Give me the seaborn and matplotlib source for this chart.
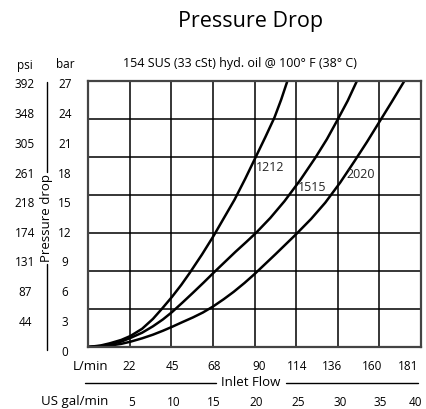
import numpy as np
import pandas as pd
import seaborn as sns
import matplotlib
matplotlib.use("Agg")
import matplotlib.pyplot as plt
from matplotlib.lines import Line2D

# Inlet flow (US gal/min) vs. pressure drop (bar) for each valve size
flow_1212 = [0, 1.5, 2.6, 4.0, 5.1, 6.5, 7.8, 8.9, 10.1, 11.2, 12.2, 13.7, 15.1,
             16.4, 17.6, 18.9, 20.1, 21.3, 22.4, 23.2, 23.95]
dp_1212 = [0, 0.15, 0.37, 0.72, 1.12, 1.85, 2.85, 3.9, 5.1, 6.3, 7.5, 9.4, 11.3,
           13.2, 14.95, 17.1, 19.2, 21.3, 23.3, 25.1, 27.0]
flow_1515 = [0, 1.5, 2.6, 4.0, 5.1, 6.5, 7.8, 9.0, 10.1, 11.4, 12.6, 13.9, 15.1,
             16.4, 17.7, 19.0, 20.2, 21.9, 23.6, 25.5, 27.3, 28.7, 30.0, 31.2, 32.3]
dp_1515 = [0, 0.1, 0.27, 0.55, 0.92, 1.45, 2.1, 2.8, 3.55, 4.55, 5.5, 6.55, 7.55,
           8.6, 9.65, 10.65, 11.6, 13.1, 14.8, 16.95, 19.2, 21.1, 23.1, 25.0, 27.0]
flow_2020 = [0, 1.5, 2.6, 4.0, 5.1, 6.5, 7.8, 9.0, 10.1, 11.4, 12.6, 13.8, 15.0,
             16.3, 17.5, 18.8, 20.0, 22.5, 25.0, 26.8, 28.5, 30.3, 32.0, 33.5,
             35.0, 36.5, 38.0]
dp_2020 = [0, 0.05, 0.14, 0.32, 0.54, 0.88, 1.25, 1.65, 2.05, 2.55, 3.0, 3.5, 4.1,
           4.85, 5.6, 6.5, 7.4, 9.4, 11.45, 13.0, 14.65, 16.7, 18.85, 20.8, 22.85,
           24.9, 27.0]

series_names = ["1212", "1515", "2020"]

# Axis labels
bar_ticks = [0, 3, 6, 9, 12, 15, 18, 21, 24, 27]
psi_labels = ["", "44", "87", "131", "174", "218", "261", "305", "348", "392"]
lpm_labels = ["22", "45", "68", "90", "114", "136", "160", "181"]
gpm_labels = ["5", "10", "15", "20", "25", "30", "35", "40"]

df = pd.concat([
    pd.DataFrame({"flow": flow_1212, "dp": dp_1212, "size": series_names[0]}),
    pd.DataFrame({"flow": flow_1515, "dp": dp_1515, "size": series_names[1]}),
    pd.DataFrame({"flow": flow_2020, "dp": dp_2020, "size": series_names[2]}),
])

sns.set_style("white")
plt.rcParams["font.family"] = ["Open Sans", "DejaVu Sans"]

W, H = 427, 409
fig = plt.figure(figsize=(W / 100, H / 100), dpi=100)
ax = fig.add_axes([88 / W, 1 - 347 / H, 333 / W, 266 / H])

sns.lineplot(data=df, x="flow", y="dp", units="size", estimator=None,
             color="black", linewidth=1.8, sort=False, ax=ax, legend=False)

ax.set_xlim(0, 40)
ax.set_ylim(0, 27)
ax.set_xticks(np.arange(5, 40, 5))
ax.set_yticks(27 * np.arange(1, 7) / 7)
ax.set_xticklabels([])
ax.set_yticklabels([])
ax.tick_params(length=0)
ax.grid(True, color="black", linewidth=1.1)
ax.set_axisbelow(True)
ax.set_xlabel("")
ax.set_ylabel("")
for s in ax.spines.values():
    s.set_color("#444444")
    s.set_linewidth(1.6)


def fx(px):
    return px / W


def fy(py):
    return 1 - py / H


def ftext(px, py, s, **kw):
    kw.setdefault("fontsize", 8.5)
    kw.setdefault("ha", "center")
    kw.setdefault("va", "center")
    fig.text(fx(px), fy(py), s, color="black", **kw)


def fline(x0, y0, x1, y1):
    fig.add_artist(Line2D([fx(x0), fx(x1)], [fy(y0), fy(y1)],
                          transform=fig.transFigure, color="black", linewidth=1.0))


# Titles
ftext(251, 22, "Pressure Drop", fontsize=15.5)
ftext(240, 63, "154 SUS (33 cSt) hyd. oil @ 100° F (38° C)", fontsize=9)

# Left scales: psi and bar
ftext(25, 65, "psi")
ftext(65, 65, "bar")
bar_px = lambda v: 352 - v * 267 / 27
for v, p in zip(bar_ticks, psi_labels):
    ftext(65, bar_px(v), str(v))
    if p:
        ftext(25, bar_px(v), p)
fline(46.7, 82, 46.7, 172)
fline(46.7, 264, 46.7, 350)
ftext(46.7, 218, "Pressure drop", rotation=90, fontsize=9.5)

# Bottom scales: L/min and US gal/min
lpm_px = [129.5, 172, 214.5, 259.5, 297.5, 332, 372, 408]
gpm_px = [131.5, 173.5, 213.5, 256.5, 298.5, 340, 380, 415]
ftext(108, 366, "L/min", ha="right", fontsize=9.5)
for x, s in zip(lpm_px, lpm_labels):
    ftext(x, 366, s)
ftext(251, 383, "Inlet Flow", fontsize=9.5)
fline(85, 383, 216, 383)
fline(286, 383, 418, 383)
ftext(108, 401, "US gal/min", ha="right", fontsize=9.5)
for x, s in zip(gpm_px, gpm_labels):
    ftext(x, 402, s)

# Curve labels
ax.text(20.2, 18.2, series_names[0], fontsize=9, ha="left", va="center")
ax.text(25.2, 16.2, series_names[1], fontsize=9, ha="left", va="center")
ax.text(31.1, 17.5, series_names[2], fontsize=9, ha="left", va="center")

fig.savefig("out.png", dpi=100)
